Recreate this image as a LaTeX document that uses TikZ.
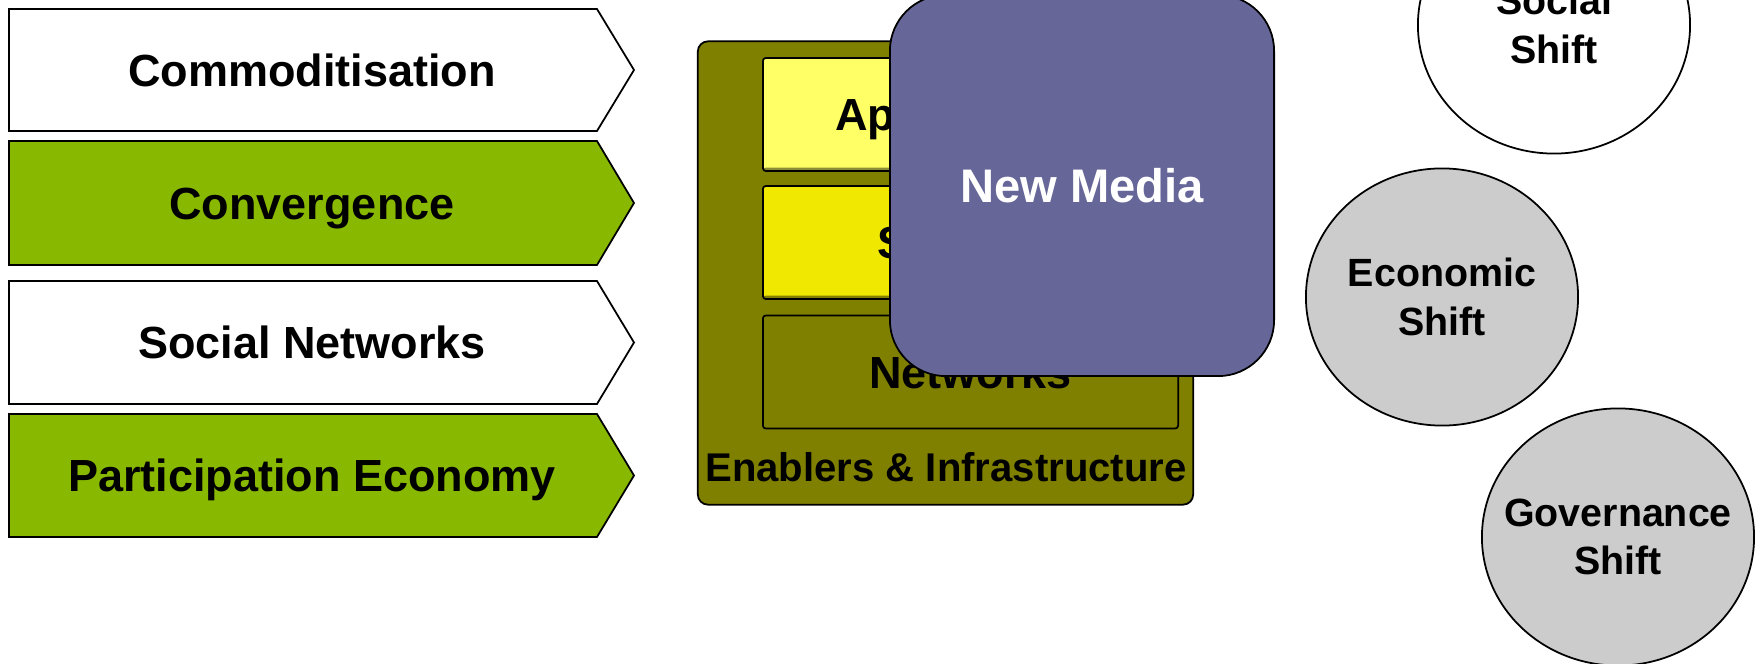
\documentclass[tikz,border=0pt]{standalone}
\usepackage{fontspec}
\setmainfont{Liberation Sans}
\usetikzlibrary{shapes.geometric}
\definecolor{drvgreen}{RGB}{136,184,0}
\definecolor{infraolive}{RGB}{128,128,0}
\definecolor{appyellow}{RGB}{255,255,102}
\definecolor{srvyellow}{RGB}{240,232,0}
\definecolor{mediablue}{RGB}{102,102,153}
\definecolor{shiftgray}{RGB}{204,204,204}
\begin{document}
\begin{tikzpicture}[x=0.01cm,y=-0.01cm,line width=0.5pt,
  bigtext/.style={font=\fontsize{12.8}{15}\selectfont\bfseries, text height=0.32cm, text depth=0pt},
  layer/.style={draw, rounded corners=0.03cm, minimum width=4.15cm, minimum height=1.13cm, inner sep=0pt, bigtext},
  layershade/.style={path picture={\fill[#1] (path picture bounding box.south west) rectangle ([yshift=0.035cm]path picture bounding box.south east);}},
  shiftoval/.style={ellipse, draw, minimum width=2.72cm, minimum height=2.57cm, inner sep=0pt},
  shifttext/.style={align=center, font=\fontsize{11.2}{13.7}\selectfont\bfseries}]
\useasboundingbox (0,0) rectangle (1760,664);
\clip (0,0) rectangle (1760,664);
% drivers
\foreach \i/\t/\b/\c/\txt in {1/9/131/white/Commoditisation, 2/141/265/drvgreen/Convergence, 3/281/404/white/Social Networks, 4/414/537/drvgreen/Participation Economy}{
  \draw[fill=\c] (9,\t) -- (597,\t) -- (634,{(\t+\b)/2}) -- (597,\b) -- (9,\b) -- cycle;
  \node[bigtext] (drv\i) at (312,{(\t+\b)/2}) {\txt};
}
% enablers
\node[draw, fill=infraolive, rounded corners=0.1cm, minimum width=4.95cm, minimum height=4.63cm, inner sep=0pt] (infra) at (945.5,273) {};
\node[layer, fill=appyellow, layershade=appyellow!55!black] (apps) at (970.5,114.5) {Applications};
\node[layer, fill=srvyellow, layershade=srvyellow!55!black] (srv) at (970.5,242.5) {Services};
\node[layer, fill=infraolive] (net) at (970.5,372) {Networks};
\node[font=\fontsize{11.4}{14}\selectfont\bfseries] (infralbl) at (946,467) {Enablers \& Infrastructure};
\node[draw, fill=mediablue, rounded corners=0.56cm, minimum width=3.84cm, minimum height=3.81cm, inner sep=0pt, text=white, font=\fontsize{13.4}{16}\selectfont\bfseries] (media) at (1082,185.5) {New Media};
% shifts
\node[shiftoval, fill=white, label={[shifttext]center:Social\\Shift}] (soc) at (1554,25) {};
\node[shiftoval, fill=shiftgray, label={[shifttext]center:Economic\\Shift}] (eco) at (1442,297) {};
\node[shiftoval, fill=shiftgray, label={[shifttext]center:Governance\\Shift}] (gov) at (1618,537) {};
\end{tikzpicture}
\end{document}
